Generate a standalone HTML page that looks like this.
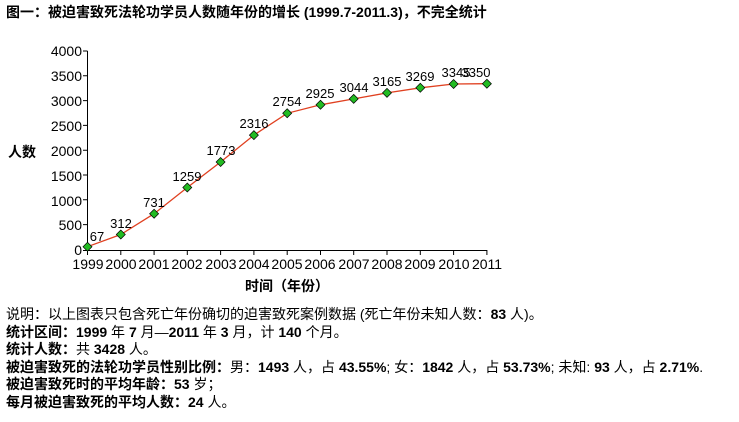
<!DOCTYPE html>
<html><head><meta charset="utf-8"><style>
body{margin:0;background:#fff;width:739px;height:422px;overflow:hidden;font-family:"Liberation Sans","Noto Sans CJK SC","WenQuanYi Zen Hei",sans-serif;}
.t{position:absolute;left:6px;font-size:14px;color:#000;white-space:nowrap;line-height:17px}
b{font-weight:bold}
</style></head><body>
<div class="t" style="top:4px;font-weight:bold">图一：被迫害致死法轮功学员人数随年份的增长 (1999.7-2011.3)，不完全统计</div>
<svg width="739" height="422" style="position:absolute;left:0;top:0" font-family="Liberation Sans, sans-serif">
<g stroke="#000" stroke-width="1" fill="none">
<line x1="87.5" y1="51" x2="87.5" y2="250.5"/>
<line x1="87.5" y1="250.5" x2="487" y2="250.5"/>
<path d="M83 51H87.5M83 75.8H87.5M83 100.6H87.5M83 125.4H87.5M83 150.2H87.5M83 175H87.5M83 199.8H87.5M83 224.6H87.5M83 250.5H87.5"/>
<path d="M87.5 250V255M120.8 250V255M154.1 250V255M187.3 250V255M220.6 250V255M253.9 250V255M287.2 250V255M320.5 250V255M353.7 250V255M387 250V255M420.3 250V255M453.6 250V255M486.9 250V255"/>
</g>
<g font-size="14" text-anchor="end" fill="#000">
<text x="82" y="56">4000</text><text x="82" y="81">3500</text><text x="82" y="106">3000</text><text x="82" y="131">2500</text><text x="82" y="156">2000</text><text x="82" y="181">1500</text><text x="82" y="206">1000</text><text x="82" y="230">500</text><text x="82" y="255">0</text>
</g>
<g font-size="14" text-anchor="middle" fill="#000">
<text x="88" y="269">1999</text><text x="121" y="269">2000</text><text x="154" y="269">2001</text><text x="187" y="269">2002</text><text x="221" y="269">2003</text><text x="254" y="269">2004</text><text x="287" y="269">2005</text><text x="320" y="269">2006</text><text x="354" y="269">2007</text><text x="387" y="269">2008</text><text x="420" y="269">2009</text><text x="454" y="269">2010</text><text x="487" y="269">2011</text>
</g>
<text x="287" y="291" font-size="14" font-weight="bold" text-anchor="middle" font-family="Noto Sans CJK SC, sans-serif">时间（年份）</text>
<text x="8" y="157" font-size="14" font-weight="bold" font-family="Noto Sans CJK SC, sans-serif">人数</text>
<polyline fill="none" stroke="#e04020" stroke-width="1.3" points="87.5,246.7 120.8,234.5 154.1,213.7 187.3,187.5 220.6,162 253.9,135.1 287.2,113.3 320.5,104.8 353.7,98.9 387,92.9 420.3,87.8 453.6,84 486.9,83.7"/>
<g fill="#22bb22" stroke="#000" stroke-width="0.7">
<path d="M87.5 242.2l4.5 4.5-4.5 4.5-4.5-4.5z"/><path d="M120.8 230l4.5 4.5-4.5 4.5-4.5-4.5z"/><path d="M154.1 209.2l4.5 4.5-4.5 4.5-4.5-4.5z"/><path d="M187.3 183l4.5 4.5-4.5 4.5-4.5-4.5z"/><path d="M220.6 157.5l4.5 4.5-4.5 4.5-4.5-4.5z"/><path d="M253.9 130.6l4.5 4.5-4.5 4.5-4.5-4.5z"/><path d="M287.2 108.8l4.5 4.5-4.5 4.5-4.5-4.5z"/><path d="M320.5 100.3l4.5 4.5-4.5 4.5-4.5-4.5z"/><path d="M353.7 94.4l4.5 4.5-4.5 4.5-4.5-4.5z"/><path d="M387 88.4l4.5 4.5-4.5 4.5-4.5-4.5z"/><path d="M420.3 83.3l4.5 4.5-4.5 4.5-4.5-4.5z"/><path d="M453.6 79.5l4.5 4.5-4.5 4.5-4.5-4.5z"/><path d="M486.9 79.2l4.5 4.5-4.5 4.5-4.5-4.5z"/>
</g>
<g font-size="13" text-anchor="middle" fill="#000">
<text x="97" y="241">67</text><text x="121" y="228">312</text><text x="154" y="207">731</text><text x="187" y="181">1259</text><text x="221" y="155">1773</text><text x="254" y="128">2316</text><text x="287" y="106">2754</text><text x="320" y="98">2925</text><text x="354" y="92">3044</text><text x="387" y="86">3165</text><text x="420" y="81">3269</text><text x="456" y="77">3345</text><text x="476" y="77">3350</text>
</g>
</svg>
<div class="t" style="top:306px">说明：以上图表只包含死亡年份确切的迫害致死案例数据 (死亡年份未知人数：<b>83</b> 人)。</div>
<div class="t" style="top:323.5px"><b>统计区间：1999</b> 年 <b>7</b> 月—<b>2011</b> 年 <b>3</b> 月，计 <b>140</b> 个月。</div>
<div class="t" style="top:341px"><b>统计人数：</b>共 <b>3428</b> 人。</div>
<div class="t" style="top:358.5px"><b>被迫害致死的法轮功学员性别比例：</b>男：<b>1493</b> 人，占 <b>43.55%</b>; 女：<b>1842</b> 人，占 <b>53.73%</b>; 未知: <b>93</b> 人，占 <b>2.71%</b>.</div>
<div class="t" style="top:376px"><b>被迫害致死时的平均年龄：</b><b>53</b> 岁；</div>
<div class="t" style="top:393.5px"><b>每月被迫害致死的平均人数：</b><b>24</b> 人。</div>
</body></html>
